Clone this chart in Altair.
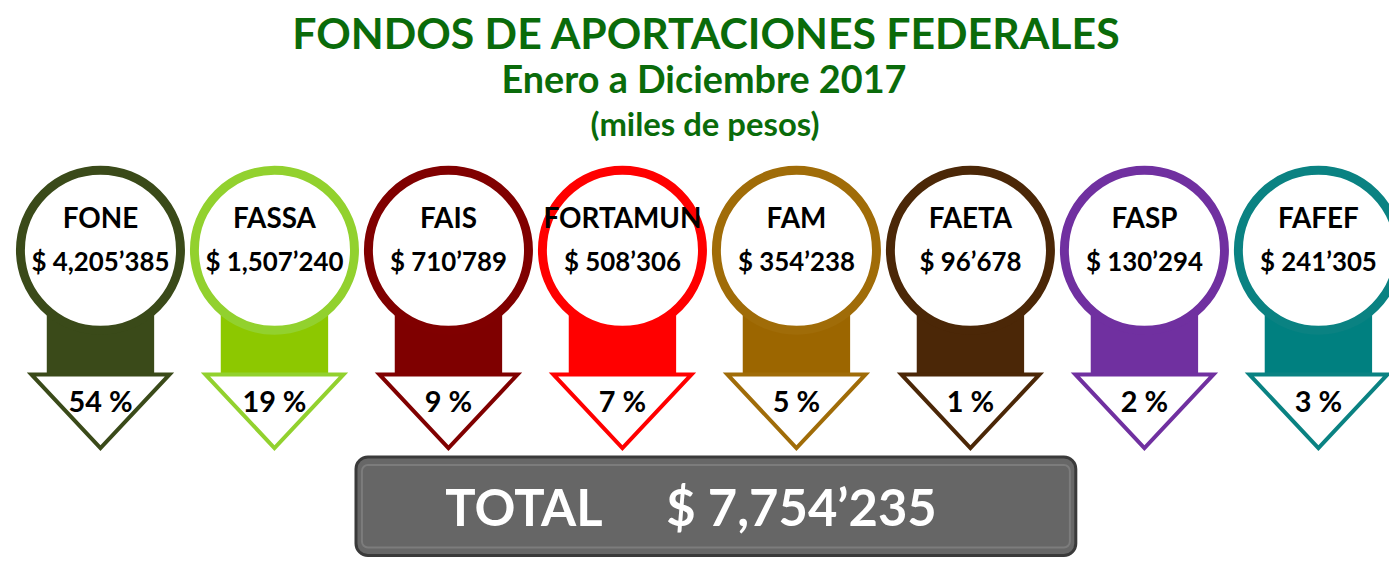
import altair as alt
import pandas as pd

# ---- data ----
fondos = ["FONE", "FASSA", "FAIS", "FORTAMUN", "FAM", "FAETA", "FASP", "FAFEF"]
montos = [4205385, 1507240, 710789, 508306, 354238, 96678, 130294, 241305]
porcentajes = [54, 19, 9, 7, 5, 1, 2, 3]
total = 7754235
titulo = "FONDOS DE APORTACIONES FEDERALES"
subtitulo = "Enero a Diciembre 2017"
unidades = "(miles de pesos)"

# ---- styles ----
colores = ["#3A4A19", "#8DC800", "#7F0000", "#FF0000", "#9C6600", "#4B2707", "#7030A0", "#008080"]
trazos = ["#3A4A19", "#92D12E", "#800000", "#FF0000", "#A06C08", "#4B2707", "#7030A0", "#0A8282"]
FONT = "Lato"
GREEN = "#0A6B0A"


def fmt(v):
    if v >= 1_000_000:
        return f"$ {v // 1_000_000},{(v // 1000) % 1000:03d}\u2019{v % 1000:03d}"
    return f"$ {v // 1000}\u2019{v % 1000:03d}"


# ---- layout (pixel coordinates of the page) ----
X0, STEP = 101, 175
CY, R_OUT, SW = 250, 85, 9
STEM_W, STEM_TOP, STEM_BOT = 108, 310, 376
TRI_W, TRI_TOP, TRI_BOT = 139, 375, 449

n = len(fondos)
df = pd.DataFrame({
    "fondo": fondos,
    "monto": [fmt(v) for v in montos],
    "pct": [f"{p} %" for p in porcentajes],
    "color": colores,
    "trazo": trazos,
})
df["cx"] = [X0 + i * STEP for i in range(n)]
df["sx1"] = df["cx"] - STEM_W / 2
df["sx2"] = df["cx"] + STEM_W / 2
df["stop"] = STEM_TOP
df["sbot"] = STEM_BOT
df["cy"] = CY
df["ty"] = (TRI_TOP + TRI_BOT) / 2
df["ny"] = 220
df["my"] = 263
df["py"] = 404

W, H = 1389, 553
xs = alt.Scale(domain=[8, 8 + W], nice=False, zero=False)
ys = alt.Scale(domain=[8, 8 + H], nice=False, zero=False, reverse=True)


def X(f):
    return alt.X(f, type="quantitative", scale=xs, axis=None)


def Y(f):
    return alt.Y(f, type="quantitative", scale=ys, axis=None)


base = alt.Chart(df)

stems = base.mark_rect().encode(
    x=X("sx1"), x2="sx2", y=Y("stop"), y2="sbot",
    color=alt.Color("color:N", scale=None),
)

d = 2 * R_OUT - SW
circles = base.mark_point(shape="circle", filled=False, fill="white", fillOpacity=1,
                          strokeWidth=SW, opacity=1, size=d * d).encode(
    x=X("cx"), y=Y("cy"),
    stroke=alt.Stroke("trazo:N", scale=None),
)

h = (TRI_BOT - TRI_TOP) / TRI_W
tri_path = f"M-1,{-h:.4f}L1,{-h:.4f}L0,{h:.4f}Z"
triangles = base.mark_point(shape=tri_path, filled=False, fill="white", fillOpacity=1,
                            strokeWidth=4, opacity=1, size=TRI_W * TRI_W,
                            strokeJoin="miter").encode(
    x=X("cx"), y=Y("ty"),
    stroke=alt.Stroke("trazo:N", scale=None),
)

names = base.mark_text(font=FONT, fontWeight="bold", fontSize=28, color="black",
                       baseline="middle", align="center").encode(
    x=X("cx"), y=Y("ny"), text="fondo:N")
amounts = base.mark_text(font=FONT, fontWeight="bold", fontSize=26, color="black",
                         baseline="middle", align="center").encode(
    x=X("cx"), y=Y("my"), text="monto:N")
pcts = base.mark_text(font=FONT, fontWeight="bold", fontSize=29, color="black",
                      baseline="middle", align="center").encode(
    x=X("cx"), y=Y("py"), text="pct:N")

# total box
box_df = pd.DataFrame({"x1": [358], "x2": [1082], "y1": [458], "y2": [557]})
box = alt.Chart(box_df).mark_rect(fill="#676767", stroke="#3A3A3A", strokeWidth=3,
                                  cornerRadius=12).encode(
    x=X("x1"), x2="x2", y=Y("y1"), y2="y2")
inner_df = pd.DataFrame({"x1": [364], "x2": [1076], "y1": [466], "y2": [549]})
inner = alt.Chart(inner_df).mark_rect(fill="#666666", stroke="#7C7C7C", strokeWidth=2,
                                      cornerRadius=6).encode(
    x=X("x1"), x2="x2", y=Y("y1"), y2="y2")

tot_df = pd.DataFrame({"t": ["TOTAL", fmt(total)], "x": [527, 806], "y": [512, 512]})
tot_text = alt.Chart(tot_df).mark_text(font=FONT, fontWeight="bold", fontSize=51, color="white",
                                       baseline="middle", align="center").encode(
    x=X("x"), y=Y("y"), text="t:N")

tit_df = pd.DataFrame({"t": [titulo, subtitulo, unidades],
                       "x": [710, 708, 709], "y": [48, 92, 135],
                       "s": [43, 38, 33]})
titles = alt.Chart(tit_df).mark_text(font=FONT, fontWeight="bold", color=GREEN,
                                     baseline="alphabetic", align="center").encode(
    x=X("x"), y=Y("y"), text="t:N",
    size=alt.Size("s:Q", scale=None, legend=None))

chart = alt.layer(stems, circles, triangles, names, amounts, pcts, box, inner, tot_text, titles).properties(
    width=W, height=H, padding=0, autosize=alt.AutoSizeParams(type="none"),
    background="white",
).configure_view(stroke=None)

chart.save("out.html", embed_options={"renderer": "svg", "actions": False})
